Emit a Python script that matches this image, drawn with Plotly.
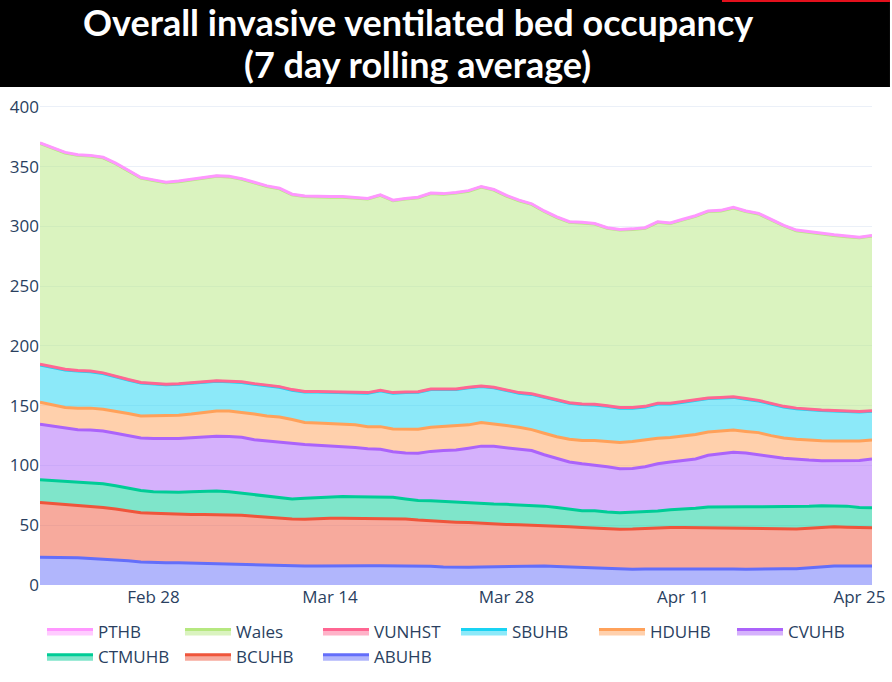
import pandas as pd
import plotly.graph_objects as go

# daily dates, 7 day rolling average of invasive ventilated beds
dates = pd.date_range("2021-02-19", "2021-04-26", freq="D")

abuhb = [23.2, 23.2, 23.2, 22.8, 22.2, 21.7, 21.0, 20.3, 19.3, 18.8, 18.7, 18.6, 18.3, 18.0, 17.8, 17.6, 17.3,
         17.0, 16.8, 16.5, 16.1, 15.9, 16.0, 16.2, 16.2, 16.2, 16.2, 16.1, 16.0, 15.9, 15.9, 15.6, 15.0, 14.6,
         14.8, 15.1, 15.3, 15.5, 15.8, 16.2, 16.0, 15.5, 15.0, 14.5, 14.5, 13.8, 13.2, 13.1, 13.3, 13.4, 13.4,
         13.4, 13.4, 13.4, 13.4, 13.4, 13.2, 13.1, 13.3, 13.5, 13.7, 14.5, 15.3, 15.9, 15.9, 15.9, 15.9]
bcuhb = [45.8, 45.0, 44.3, 44.0, 43.6, 43.1, 42.5, 41.7, 41.2, 41.2, 40.8, 40.6, 40.7, 40.9, 40.9, 41.0, 41.0,
         40.5, 39.9, 39.5, 39.1, 39.1, 39.5, 39.6, 39.6, 39.4, 39.3, 39.4, 39.4, 39.4, 38.4, 38.0, 38.1, 38.0,
         37.4, 36.5, 35.8, 35.2, 34.7, 34.0, 33.8, 33.8, 33.8, 33.7, 33.0, 33.2, 33.4, 33.7, 34.1, 34.4, 34.8,
         34.8, 34.7, 34.6, 34.6, 34.6, 34.5, 34.3, 33.9, 33.5, 33.2, 33.0, 33.0, 32.9, 32.5, 32.1, 32.1]
ctmuhb = [19.0, 19.1, 19.2, 19.2, 19.5, 20.0, 19.5, 19.0, 18.5, 18.0, 18.1, 18.5, 19.0, 19.6, 20.0, 19.4, 18.5,
          18.3, 18.0, 17.5, 16.8, 17.5, 17.7, 18.0, 18.2, 18.3, 18.4, 18.4, 18.1, 16.7, 16.4, 17.0, 16.9, 16.6,
          16.5, 16.8, 16.7, 16.8, 16.7, 16.7, 16.2, 15.5, 14.7, 14.0, 14.7, 14.0, 13.9, 14.0, 14.1, 14.2, 14.8,
          15.3, 16.1, 17.2, 17.5, 17.5, 17.8, 18.1, 18.3, 18.5, 18.6, 18.3, 18.0, 17.6, 17.6, 16.8, 16.7]
cvuhb = [46.5, 45.7, 44.3, 44.0, 44.4, 44.0, 44.0, 44.0, 44.0, 44.5, 44.7, 44.8, 45.2, 45.5, 45.8, 46.2, 46.9,
         45.7, 45.8, 46.0, 46.0, 45.0, 43.8, 42.7, 42.0, 41.1, 40.1, 39.6, 38.0, 38.5, 39.5, 41.2, 42.5, 43.8,
         45.8, 47.8, 48.2, 47.5, 46.8, 45.6, 43.0, 41.2, 39.5, 39.3, 38.3, 38.0, 36.7, 36.7, 37.5, 39.5, 40.0,
         40.5, 41.3, 43.3, 44.5, 45.5, 45.0, 43.8, 42.0, 40.5, 39.5, 38.7, 37.7, 37.6, 38.0, 39.4, 40.7]
hduhb = [18.5, 18.0, 17.5, 18.0, 18.3, 18.2, 18.5, 18.5, 18.5, 19.0, 19.4, 19.5, 19.8, 20.5, 21.0, 21.3, 20.8,
         21.5, 21.0, 21.0, 20.5, 18.5, 18.5, 18.5, 18.7, 19.0, 18.5, 19.0, 19.0, 19.8, 20.1, 20.2, 20.3, 20.0,
         19.5, 19.8, 19.0, 18.5, 18.0, 17.5, 18.0, 18.0, 19.0, 19.5, 20.5, 21.0, 22.1, 22.5, 22.5, 21.3, 20.5,
         20.5, 20.5, 19.5, 19.0, 18.7, 18.0, 18.2, 17.5, 17.0, 17.0, 16.8, 16.8, 16.6, 16.5, 16.3, 15.9]
sbuhb = [31.2, 31.0, 31.5, 31.0, 30.5, 30.0, 28.5, 28.0, 27.5, 26.5, 25.8, 26.0, 26.0, 25.5, 25.0, 24.5, 25.0,
         25.0, 25.0, 25.0, 24.5, 25.5, 26.0, 26.3, 26.3, 27.0, 28.0, 30.0, 30.0, 30.7, 31.0, 31.5, 30.7, 30.5,
         31.0, 30.0, 30.0, 29.0, 28.5, 29.5, 30.0, 30.5, 30.0, 30.0, 29.7, 29.5, 28.7, 28.0, 27.5, 28.7, 28.0,
         28.5, 28.5, 28.0, 27.5, 27.3, 27.0, 26.5, 26.5, 26.0, 25.5, 25.2, 25.2, 24.9, 24.5, 24.2, 24.0]
vunhst = [0.5, 0.5, 0.5, 0.5, 0.5, 0.5, 0.5, 0.5, 0.5, 0.5, 0.5, 0.5, 0.5, 0.5, 0.5, 0.5, 0.5,
          0.5, 0.5, 0.5, 0.5, 0.5, 0.5, 0.5, 0.5, 0.5, 0.5, 0.5, 0.5, 0.5, 0.5, 0.5, 0.5, 0.5,
          0.5, 0.5, 0.5, 0.5, 0.5, 0.5, 0.5, 0.5, 0.5, 0.5, 0.5, 0.5, 0.5, 0.5, 0.5, 0.5, 0.5,
          0.5, 0.5, 0.5, 0.5, 0.5, 0.5, 0.5, 0.5, 0.5, 0.5, 0.5, 0.5, 0.5, 0.5, 0.5, 0.5]
wales = [184.8, 183.0, 181.0, 180.0, 180.0, 180.0, 178.0, 174.5, 171.0, 170.0, 168.5, 169.0, 169.5, 170.0,
         171.0, 171.0, 169.5, 168.0, 166.5, 165.5, 163.0, 163.0, 162.5, 162.7, 163.0, 162.5, 162.0, 163.0,
         160.5, 161.5, 162.2, 163.5, 163.0, 164.0, 164.0, 166.5, 165.0, 162.5, 160.5, 158.5, 155.0, 152.5,
         151.0, 151.5, 150.8, 148.5, 148.5, 149.0, 149.0, 151.5, 150.5, 152.0, 153.5, 156.0, 156.0, 158.0,
         156.5, 156.0, 153.5, 151.0, 148.5, 148.0, 147.0, 146.5, 146.0, 145.3, 146.2]
pthb = [0.5, 0.5, 0.5, 0.5, 0.5, 0.5, 0.5, 0.5, 0.5, 0.5, 0.5, 0.5, 0.5, 0.5, 0.5, 0.5, 0.5,
        0.5, 0.5, 0.5, 0.5, 0.5, 0.5, 0.5, 0.5, 0.5, 0.5, 0.5, 0.5, 0.5, 0.5, 0.5, 0.5, 0.5,
        0.5, 0.5, 0.5, 0.5, 0.5, 0.5, 0.5, 0.5, 0.5, 0.5, 0.5, 0.5, 0.5, 0.5, 0.5, 0.5, 0.5,
        0.5, 0.5, 0.5, 0.5, 0.5, 0.5, 0.5, 0.5, 0.5, 0.5, 0.5, 0.5, 0.5, 0.5, 0.5, 0.5]

series = [
    ("ABUHB", abuhb),
    ("BCUHB", bcuhb),
    ("CTMUHB", ctmuhb),
    ("CVUHB", cvuhb),
    ("HDUHB", hduhb),
    ("SBUHB", sbuhb),
    ("VUNHST", vunhst),
    ("Wales", wales),
    ("PTHB", pthb),
]

fig = go.Figure()
for name, vals in series:
    fig.add_trace(go.Scatter(
        x=dates,
        y=vals,
        name=name,
        mode="lines",
        stackgroup="one",
        line=dict(width=3),
    ))

# black title banner laid over the top of the chart
fig.add_shape(type="rect", xref="paper", yref="paper",
              x0=-0.05, x1=1.0216, y0=1.0289, y1=1.25,
              fillcolor="black", line_width=0, layer="above")
fig.add_shape(type="rect", xref="paper", yref="paper",
              x0=0.8197, x1=1.0216, y0=1.2045, y1=1.25,
              fillcolor="#e3101c", line_width=0, layer="above")
fig.add_annotation(text="<b>Overall invasive ventilated bed occupancy</b>",
                   xref="paper", yref="paper", x=0.454, y=1.163,
                   showarrow=False, xanchor="center", yanchor="middle",
                   font=dict(family="Lato", size=36, color="white"))
fig.add_annotation(text="<b>(7 day rolling average)</b>",
                   xref="paper", yref="paper", x=0.454, y=1.077,
                   showarrow=False, xanchor="center", yanchor="middle",
                   font=dict(family="Lato", size=36, color="white"))

fig.update_layout(
    template="plotly_white",
    width=892,
    height=682,
    margin=dict(l=40, r=20, t=101, b=97, autoexpand=False),
    font=dict(family="Open Sans", size=17, color="#2a3f5f"),
    showlegend=True,
    legend=dict(orientation="h", x=0.0024, y=-0.06, xanchor="left", yanchor="top",
                traceorder="reversed", itemwidth=46, entrywidth=77, font=dict(size=17)),
)
fig.update_xaxes(showgrid=False, tickformat="%b %d", dtick=14 * 86400000,
                 tick0="2021-02-28", range=["2021-02-19", "2021-04-26"], automargin=False)
fig.update_yaxes(range=[0, 405], dtick=50, automargin=False, zeroline=False)

fig.write_html("out.html", config={"displayModeBar": False},
               post_script="document.body.style.margin='0';")
